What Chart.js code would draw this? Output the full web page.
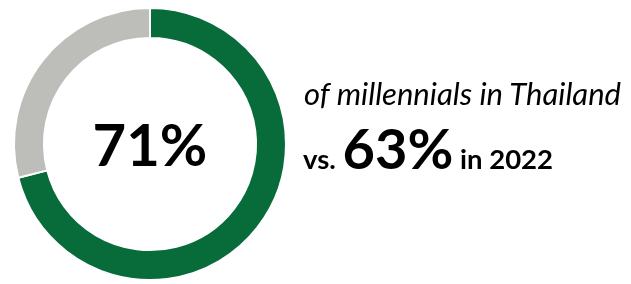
<!DOCTYPE html>
<html>
<head>
<meta charset="utf-8">
<script src="https://cdn.jsdelivr.net/npm/chart.js@4"></script>
<style>
  html, body { margin: 0; padding: 0; background: #fff; }
  #wrap { position: relative; width: 631px; height: 284px; font-family: Lato, "Open Sans", sans-serif; color: #000; }
  #wrap canvas { position: absolute; left: 0; top: 0; }
  .lbl { position: absolute; white-space: nowrap; line-height: 1; }
  #center { left: 0; width: 300px; top: 115px; text-align: center; font-weight: bold; font-size: 58px; }
  #sub { left: 304px; top: 78px; font-style: italic; font-size: 31px; }
  #cmp { left: 303px; top: 120px; font-weight: bold; }
  #cmp .s { font-size: 27.5px; }
  #cmp .big { font-size: 56px; }
</style>
</head>
<body>
<div id="wrap">
  <canvas id="myChart" width="631" height="284"></canvas>
  <div class="lbl" id="center"></div>
  <div class="lbl" id="sub"></div>
  <div class="lbl" id="cmp"><span class="s">vs. </span><span class="big" id="prev"></span><span class="s" id="year"></span></div>
</div>
<script>
// Data
const labels = ['Millennials in Thailand', 'Others'];
const shares = [71, 29];
const colors = ['#086b3a', '#bdbdb9'];
const previousShare = 63;
const previousYear = 2022;

// Texts
document.getElementById('center').textContent = shares[0] + '%';
document.getElementById('sub').textContent = 'of millennials in Thailand';
document.getElementById('prev').textContent = previousShare + '%';
document.getElementById('year').textContent = ' in ' + previousYear;

const ctx = document.getElementById('myChart').getContext('2d');

const myChart = new Chart(ctx, {
    type: 'doughnut',
    data: {
        labels: labels,
        datasets: [{
            data: shares,
            backgroundColor: colors,
            borderColor: '#ffffff',
            borderWidth: 2
        }]
    },
    options: {
        responsive: false,
        animation: false,
        cutout: '78%',
        layout: {
            padding: { left: 13, top: 7, bottom: 3, right: 344 }
        },
        plugins: {
            legend: { display: false },
            tooltip: { enabled: false }
        }
    }
});
</script>
</body>
</html>
